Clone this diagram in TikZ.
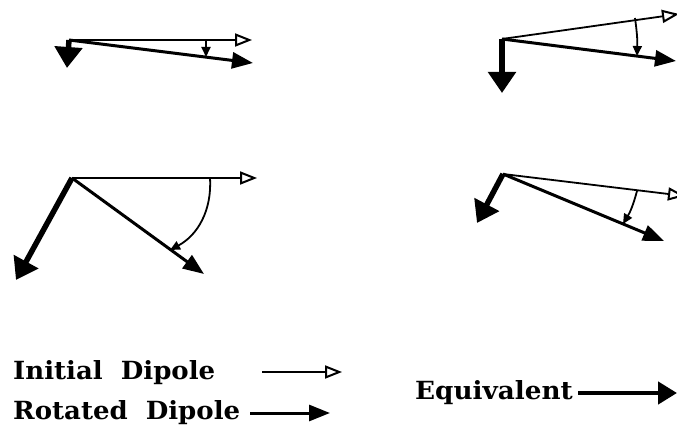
\documentclass[tikz,border=0pt]{standalone}
\usepackage{fontspec}
\setmainfont{DejaVu Serif}
\usetikzlibrary{arrows.meta}
\tikzset{
  initial/.style={line width=1.8pt,-{Triangle[open,length=17pt,width=13pt,line width=2pt]}},
  rotated/.style={line width=3pt,-{Triangle[length=21pt,width=16pt]}},
  equiv/.style={line width=5.5pt,-{Triangle[length=21pt,width=27pt]}},
  anglearr/.style={line width=1.8pt,-{Triangle[length=10pt,width=9pt]}},
  lbl/.style={anchor=west,inner sep=0pt,font=\fontsize{25}{29}\selectfont\bfseries}
}
\begin{document}
\begin{tikzpicture}[x=1pt,y=-1pt]
\clip (0,0) rectangle (677,441);
% panel 1
\coordinate (o1) at (69,40);
\coordinate (i1) at (252,40);
\coordinate (r1) at (253,63);
\coordinate (e1) at (67,68);
\coordinate (a1s) at (206,40);
\coordinate (a1e) at (206,57);
\draw[initial] (o1) -- (i1);
\draw[rotated] (o1) -- (r1);
\draw[equiv] (o1) -- (e1);
\draw[anglearr] (a1s) -- (a1e);
% panel 2
\coordinate (o2) at (502,39);
\coordinate (i2) at (679,14);
\coordinate (r2) at (676,61);
\coordinate (e2) at (502,93);
\coordinate (a2s) at (635,18);
\coordinate (a2e) at (637,56);
\draw[initial] (o2) -- (i2);
\draw[rotated] (o2) -- (r2);
\draw[equiv] (o2) -- (e2);
\draw[anglearr] (a2s) to[bend left=5] (a2e);
% panel 3
\coordinate (o3) at (72,178);
\coordinate (i3) at (257,178);
\coordinate (r3) at (204,274);
\coordinate (e3) at (16,280);
\coordinate (a3s) at (210,178);
\coordinate (a3e) at (170,250);
\draw[initial] (o3) -- (i3);
\draw[rotated] (o3) -- (r3);
\draw[equiv] (o3) -- (e3);
\draw[anglearr] (a3s) .. controls (212,210) and (198,235) .. (a3e);
% panel 4
\coordinate (o4) at (503,174);
\coordinate (i4) at (685,196);
\coordinate (r4) at (664,241);
\coordinate (e4) at (477,223);
\coordinate (a4s) at (637,191);
\coordinate (a4e) at (623,224);
\draw[initial] (o4) -- (i4);
\draw[rotated] (o4) -- (r4);
\draw[equiv] (o4) -- (e4);
\draw[anglearr] (a4s) to[bend left=8] (a4e);
% legend
\node[lbl] (t1) at (13,373) {\scalebox{1.04}[1]{Initial\ \ Dipole}};
\node[lbl] (t2) at (13,413) {\scalebox{1.04}[1]{Rotated\ \ Dipole}};
\node[lbl] (t3) at (415,393) {\scalebox{1.05}[1]{Equivalent}};
\coordinate (l1s) at (262,372);
\coordinate (l1e) at (342,372);
\coordinate (l2s) at (250,413);
\coordinate (l2e) at (330,413);
\coordinate (l3s) at (578,393);
\coordinate (l3e) at (677,393);
\draw[initial] (l1s) -- (l1e);
\draw[rotated] (l2s) -- (l2e);
\draw[line width=4.5pt,-{Triangle[length=19pt,width=22pt]}] (l3s) -- (l3e);
\end{tikzpicture}
\end{document}
